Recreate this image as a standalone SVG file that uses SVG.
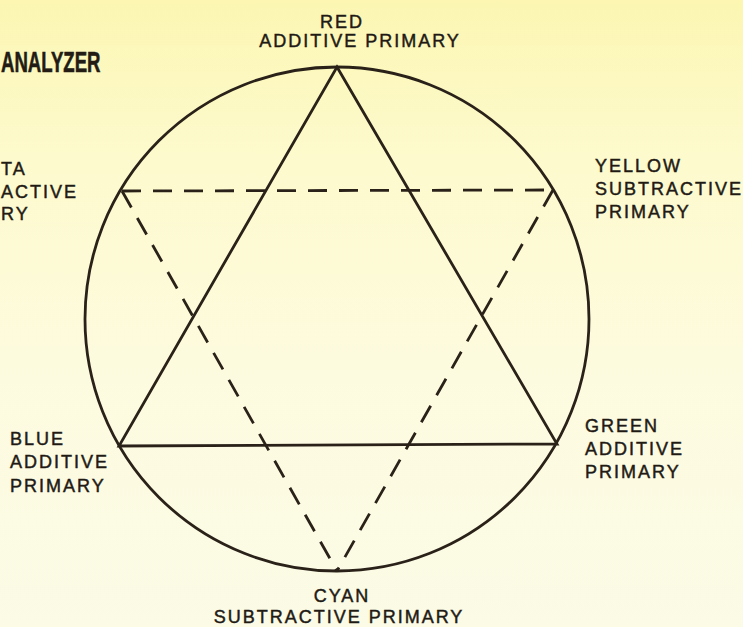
<svg xmlns="http://www.w3.org/2000/svg" width="743" height="627" viewBox="0 0 743 627">
<defs>
<linearGradient id="bg" x1="0" y1="0" x2="0" y2="1">
<stop offset="0" stop-color="#fcf6b2"/>
<stop offset="0.25" stop-color="#fdfacd"/>
<stop offset="0.6" stop-color="#fdfbdf"/>
<stop offset="1" stop-color="#fbfbe6"/>
</linearGradient>
<style>
.lbl{font-family:"Liberation Sans",Arial,sans-serif;font-size:18px;letter-spacing:2px;fill:#1f1a14;stroke:#1f1a14;stroke-width:0.45}
.mid{text-anchor:middle}
.solid{fill:none;stroke:#2a2219;stroke-width:2.8;stroke-linejoin:miter}
.dash{fill:none;stroke:#2a2219;stroke-width:2.8;stroke-dasharray:19 12}
.title{font-family:"Liberation Sans",Arial,sans-serif;font-weight:bold;font-size:30px;fill:#231c15;stroke:#231c15;stroke-width:0.6}
</style>
</defs>
<rect width="743" height="627" fill="url(#bg)"/>
<text class="title" transform="translate(1,72) scale(0.62,1)">ANALYZER</text>
<g id="connectors">
<circle cx="337" cy="319" r="252" class="solid"/>
<polygon points="337,67 557,444 119,446" class="solid"/>
<path d="M122,191 L553,190" class="dash"/>
<path d="M122,191 L337,571" class="dash"/>
<path d="M553,190 L337,571" class="dash"/>
</g>
<g id="red">
<text class="lbl mid" x="342" y="28">RED</text>
<text class="lbl mid" x="360" y="47">ADDITIVE PRIMARY</text>
</g>
<g id="yellow">
<text class="lbl" x="595" y="172">YELLOW</text>
<text class="lbl" x="595" y="195">SUBTRACTIVE</text>
<text class="lbl" x="595" y="218">PRIMARY</text>
</g>
<g id="magenta">
<text class="lbl" x="1" y="175">TA</text>
<text class="lbl" x="1" y="198">ACTIVE</text>
<text class="lbl" x="1" y="220">RY</text>
</g>
<g id="green">
<text class="lbl" x="585" y="432">GREEN</text>
<text class="lbl" x="585" y="455">ADDITIVE</text>
<text class="lbl" x="585" y="478">PRIMARY</text>
</g>
<g id="blue">
<text class="lbl" x="10" y="445">BLUE</text>
<text class="lbl" x="10" y="468">ADDITIVE</text>
<text class="lbl" x="10" y="492">PRIMARY</text>
</g>
<g id="cyan">
<text class="lbl mid" x="342" y="602">CYAN</text>
<text class="lbl mid" x="339" y="623">SUBTRACTIVE PRIMARY</text>
</g>
</svg>
